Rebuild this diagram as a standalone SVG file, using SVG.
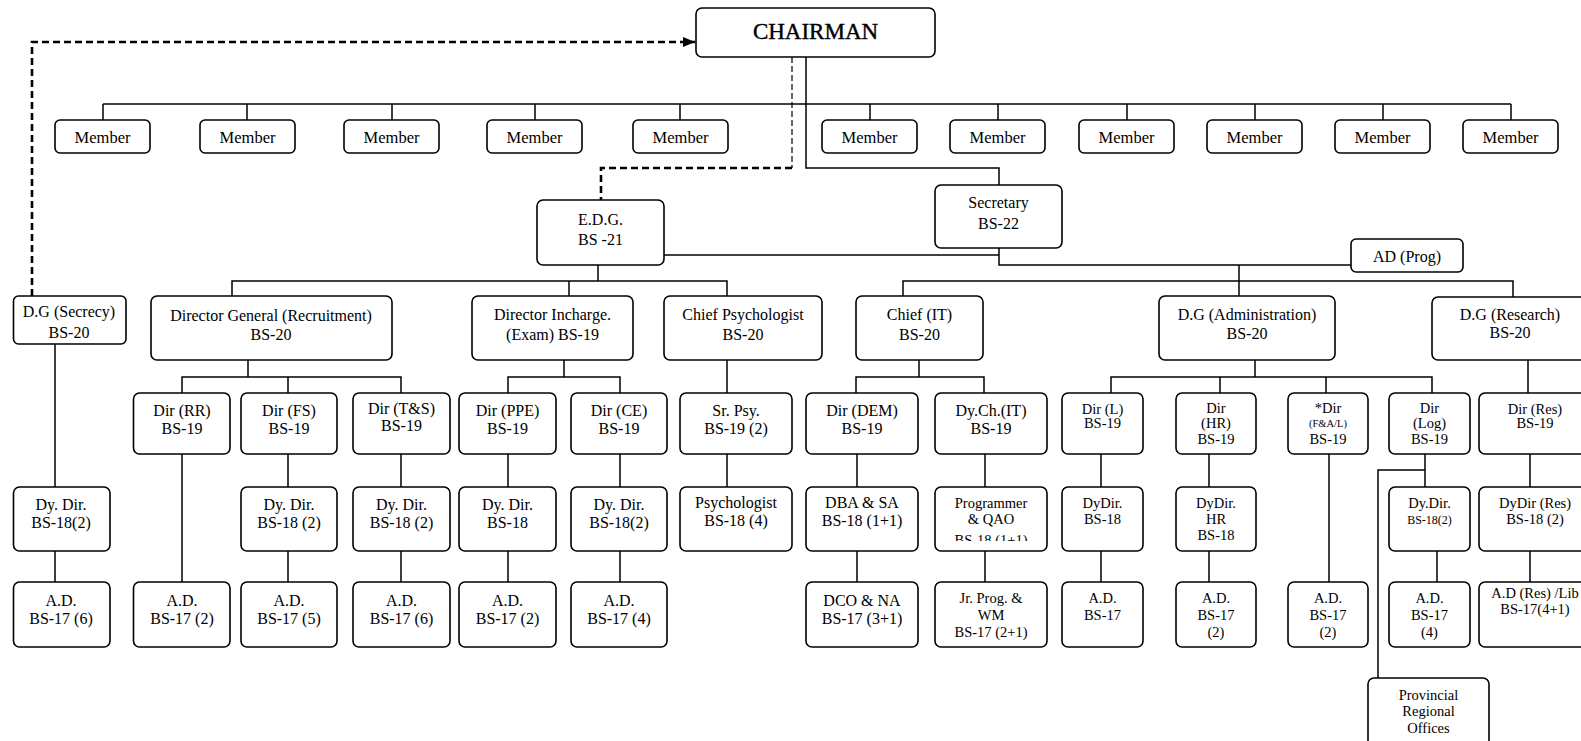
<svg xmlns="http://www.w3.org/2000/svg" width="1581" height="741" viewBox="0 0 1581 741">
<style>
.box{fill:#fff;stroke:#000;stroke-width:1.6}
.t{font-family:"Liberation Serif","Times New Roman",serif;font-size:16px;text-anchor:middle;fill:#000}
.m{font-size:16.5px}
.s{font-size:14.5px}
.xs{font-size:10.5px}
.ln{fill:none;stroke:#000;stroke-width:1.5}
.dk{fill:none;stroke:#000;stroke-width:2.6;stroke-dasharray:7 4}
.dt{fill:none;stroke:#000;stroke-width:1.2;stroke-dasharray:6 3}
</style>
<defs>
<marker id="arr" markerUnits="userSpaceOnUse" markerWidth="14" markerHeight="12" refX="12" refY="6" orient="auto">
<path d="M0,1 L12,6 L0,11 Z" fill="#000"/>
</marker>
<clipPath id="clipProg"><rect x="935" y="487" width="112" height="54"/></clipPath>
</defs>
<rect width="1581" height="741" fill="#fff"/>

<g id="connectors">
<path class="ln" d="M806,57 V168 H999 V185"/>
<path class="ln" d="M103,104 H1511"/>
<path class="ln" d="M103,104 V120 M247,104 V120 M392,104 V120 M535,104 V120 M680,104 V120 M870,104 V120 M998,104 V120 M1127,104 V120 M1255,104 V120 M1383,104 V120 M1511,104 V120"/>
<path class="ln" d="M999,248 V265 H1351"/>
<path class="ln" d="M664,255 H999"/>
<path class="ln" d="M598,265 V281"/>
<path class="ln" d="M232,296 V281 H727 V296 M569,281 V296"/>
<path class="ln" d="M1239,265 V296"/>
<path class="ln" d="M903,296 V281 H1513 V297"/>
<path class="ln" d="M55,344 V487 M55,551 V582"/>
<path class="ln" d="M248,360 V377 M182,393 V377 H401 V393 M288,377 V393"/>
<path class="ln" d="M182,454 V582"/>
<path class="ln" d="M288,454 V487 M288,551 V582"/>
<path class="ln" d="M401,454 V487 M401,551 V582"/>
<path class="ln" d="M564,360 V377 M508,393 V377 H620 V393"/>
<path class="ln" d="M508,454 V487 M508,551 V582"/>
<path class="ln" d="M620,454 V487 M620,551 V582"/>
<path class="ln" d="M727,360 V393 M727,454 V487"/>
<path class="ln" d="M919,360 V377 M856,393 V377 H984 V393"/>
<path class="ln" d="M857,454 V487 M857,551 V582"/>
<path class="ln" d="M985,454 V487 M985,551 V582"/>
<path class="ln" d="M1255,360 V377 M1111,393 V377 H1432 V393 M1220,377 V393 M1326,377 V393"/>
<path class="ln" d="M1101,454 V487 M1101,551 V582"/>
<path class="ln" d="M1209,454 V487 M1209,551 V582"/>
<path class="ln" d="M1329,454 V582"/>
<path class="ln" d="M1425,454 V487 M1425,470 H1378 V678 M1437,551 V582"/>
<path class="ln" d="M1528,360 V393 M1530,454 V487 M1530,551 V582"/>
<path class="dk" d="M32,296 V42 H695" marker-end="url(#arr)"/>
<path class="dt" d="M792,57 V168"/>
<path class="dk" d="M792,168 H601 V200"/>
</g>

<g id="chairman"><rect class="box" x="696" y="8" width="239" height="49" rx="6"/><text class="t" x="815.5" y="39" style="font-size:23px;stroke:#000;stroke-width:0.4">CHAIRMAN</text></g>

<g id="member1"><rect class="box" x="55" y="120" width="95" height="33" rx="5"/><text class="t m" x="102.5" y="143">Member</text></g>
<g id="member2"><rect class="box" x="200" y="120" width="95" height="33" rx="5"/><text class="t m" x="247.5" y="143">Member</text></g>
<g id="member3"><rect class="box" x="344" y="120" width="95" height="33" rx="5"/><text class="t m" x="391.5" y="143">Member</text></g>
<g id="member4"><rect class="box" x="487" y="120" width="95" height="33" rx="5"/><text class="t m" x="534.5" y="143">Member</text></g>
<g id="member5"><rect class="box" x="633" y="120" width="95" height="33" rx="5"/><text class="t m" x="680.5" y="143">Member</text></g>
<g id="member6"><rect class="box" x="822" y="120" width="95" height="33" rx="5"/><text class="t m" x="869.5" y="143">Member</text></g>
<g id="member7"><rect class="box" x="950" y="120" width="95" height="33" rx="5"/><text class="t m" x="997.5" y="143">Member</text></g>
<g id="member8"><rect class="box" x="1079" y="120" width="95" height="33" rx="5"/><text class="t m" x="1126.5" y="143">Member</text></g>
<g id="member9"><rect class="box" x="1207" y="120" width="95" height="33" rx="5"/><text class="t m" x="1254.5" y="143">Member</text></g>
<g id="member10"><rect class="box" x="1335" y="120" width="95" height="33" rx="5"/><text class="t m" x="1382.5" y="143">Member</text></g>
<g id="member11"><rect class="box" x="1463" y="120" width="95" height="33" rx="5"/><text class="t m" x="1510.5" y="143">Member</text></g>

<g id="secretary"><rect class="box" x="935" y="185" width="127" height="63" rx="6"/><text class="t" x="998.5" y="208">Secretary</text><text class="t" x="998.5" y="229">BS-22</text></g>
<g id="edg"><rect class="box" x="537" y="200" width="127" height="65" rx="6"/><text class="t" x="600.5" y="225">E.D.G.</text><text class="t" x="600.5" y="245">BS -21</text></g>
<g id="adprog"><rect class="box" x="1351" y="239" width="112" height="33" rx="5"/><text class="t" x="1407" y="262">AD (Prog)</text></g>

<g id="dg-secrecy"><rect class="box" x="13.5" y="296" width="112.5" height="48" rx="5"/><text class="t" x="69" y="317">D.G (Secrecy)</text><text class="t" x="69" y="338">BS-20</text></g>
<g id="dg-recruitment"><rect class="box" x="151" y="296" width="241" height="64" rx="6"/><text class="t" x="271" y="321">Director General (Recruitment)</text><text class="t" x="271" y="340">BS-20</text></g>
<g id="dir-incharge"><rect class="box" x="472" y="296" width="161" height="64" rx="6"/><text class="t" x="552.5" y="320">Director Incharge.</text><text class="t" x="552.5" y="340">(Exam) BS-19</text></g>
<g id="chief-psych"><rect class="box" x="664" y="296" width="158" height="64" rx="6"/><text class="t" x="743" y="320">Chief Psychologist</text><text class="t" x="743" y="340">BS-20</text></g>
<g id="chief-it"><rect class="box" x="856" y="296" width="127" height="64" rx="6"/><text class="t" x="919.5" y="320">Chief (IT)</text><text class="t" x="919.5" y="340">BS-20</text></g>
<g id="dg-admin"><rect class="box" x="1159" y="296" width="176" height="64" rx="6"/><text class="t" x="1247" y="320">D.G (Administration)</text><text class="t" x="1247" y="339">BS-20</text></g>
<g id="dg-research"><rect class="box" x="1432" y="297" width="160" height="63" rx="6"/><text class="t" x="1510" y="320">D.G (Research)</text><text class="t" x="1510" y="338">BS-20</text></g>

<g id="dir-rr"><rect class="box" x="133.5" y="393" width="96.5" height="61" rx="6"/><text class="t" x="182" y="416">Dir (RR)</text><text class="t" x="182" y="434">BS-19</text></g>
<g id="dir-fs"><rect class="box" x="241" y="393" width="96" height="61" rx="6"/><text class="t" x="289" y="416">Dir (FS)</text><text class="t" x="289" y="434">BS-19</text></g>
<g id="dir-ts"><rect class="box" x="353" y="393" width="97" height="61" rx="6"/><text class="t" x="401.5" y="414">Dir (T&amp;S)</text><text class="t" x="401.5" y="431">BS-19</text></g>
<g id="dir-ppe"><rect class="box" x="459" y="393" width="97" height="61" rx="6"/><text class="t" x="507.5" y="416">Dir (PPE)</text><text class="t" x="507.5" y="434">BS-19</text></g>
<g id="dir-ce"><rect class="box" x="571" y="393" width="96" height="61" rx="6"/><text class="t" x="619" y="416">Dir (CE)</text><text class="t" x="619" y="434">BS-19</text></g>
<g id="sr-psy"><rect class="box" x="680" y="393" width="112" height="61" rx="6"/><text class="t" x="736" y="416">Sr. Psy.</text><text class="t" x="736" y="434">BS-19 (2)</text></g>
<g id="dir-dem"><rect class="box" x="806" y="393" width="112" height="61" rx="6"/><text class="t" x="862" y="416">Dir (DEM)</text><text class="t" x="862" y="434">BS-19</text></g>
<g id="dych-it"><rect class="box" x="935" y="393" width="112" height="61" rx="6"/><text class="t" x="991" y="416">Dy.Ch.(IT)</text><text class="t" x="991" y="434">BS-19</text></g>
<g id="dir-l"><rect class="box" x="1062" y="393" width="81" height="61" rx="6"/><text class="t s" x="1102.5" y="414">Dir (L)</text><text class="t s" x="1102.5" y="428">BS-19</text></g>
<g id="dir-hr"><rect class="box" x="1176" y="393" width="80" height="61" rx="6"/><text class="t s" x="1216" y="413">Dir</text><text class="t s" x="1216" y="428">(HR)</text><text class="t s" x="1216" y="444">BS-19</text></g>
<g id="dir-fal"><rect class="box" x="1288" y="393" width="80" height="61" rx="6"/><text class="t s" x="1328" y="413">*Dir</text><text class="t xs" x="1328" y="427">(F&amp;A/L)</text><text class="t s" x="1328" y="444">BS-19</text></g>
<g id="dir-log"><rect class="box" x="1389" y="393" width="81" height="61" rx="6"/><text class="t s" x="1429.5" y="413">Dir</text><text class="t s" x="1429.5" y="428">(Log)</text><text class="t s" x="1429.5" y="444">BS-19</text></g>
<g id="dir-res"><rect class="box" x="1479" y="393" width="112" height="61" rx="6"/><text class="t s" x="1535" y="414">Dir (Res)</text><text class="t s" x="1535" y="428">BS-19</text></g>

<g id="dydir-secrecy"><rect class="box" x="13.5" y="487" width="96.5" height="64" rx="6"/><text class="t" x="61" y="510">Dy. Dir.</text><text class="t" x="61" y="528">BS-18(2)</text></g>
<g id="dydir-fs"><rect class="box" x="241" y="487" width="96" height="64" rx="6"/><text class="t" x="289" y="510">Dy. Dir.</text><text class="t" x="289" y="528">BS-18 (2)</text></g>
<g id="dydir-ts"><rect class="box" x="353" y="487" width="97" height="64" rx="6"/><text class="t" x="401.5" y="510">Dy. Dir.</text><text class="t" x="401.5" y="528">BS-18 (2)</text></g>
<g id="dydir-ppe"><rect class="box" x="459" y="487" width="97" height="64" rx="6"/><text class="t" x="507.5" y="510">Dy. Dir.</text><text class="t" x="507.5" y="528">BS-18</text></g>
<g id="dydir-ce"><rect class="box" x="571" y="487" width="96" height="64" rx="6"/><text class="t" x="619" y="510">Dy. Dir.</text><text class="t" x="619" y="528">BS-18(2)</text></g>
<g id="psychologist"><rect class="box" x="680" y="487" width="112" height="64" rx="6"/><text class="t" x="736" y="508">Psychologist</text><text class="t" x="736" y="526">BS-18 (4)</text></g>
<g id="dba-sa"><rect class="box" x="806" y="487" width="112" height="64" rx="6"/><text class="t" x="862" y="508">DBA &amp; SA</text><text class="t" x="862" y="526">BS-18 (1+1)</text></g>
<g id="programmer"><rect class="box" x="935" y="487" width="112" height="64" rx="6"/><text class="t s" x="991" y="508">Programmer</text><text class="t s" x="991" y="524">&amp; QAO</text><text class="t s" x="991" y="545" clip-path="url(#clipProg)">BS-18 (1+1)</text></g>
<g id="dydir-l"><rect class="box" x="1062" y="487" width="81" height="64" rx="6"/><text class="t s" x="1102.5" y="508">DyDir.</text><text class="t s" x="1102.5" y="524">BS-18</text></g>
<g id="dydir-hr"><rect class="box" x="1176" y="487" width="80" height="64" rx="6"/><text class="t s" x="1216" y="508">DyDir.</text><text class="t s" x="1216" y="524">HR</text><text class="t s" x="1216" y="540">BS-18</text></g>
<g id="dydir-log"><rect class="box" x="1389" y="487" width="81" height="64" rx="6"/><text class="t s" x="1429.5" y="508">Dy.Dir.</text><text class="t" x="1429.5" y="524" style="font-size:12px">BS-18(2)</text></g>
<g id="dydir-res"><rect class="box" x="1479" y="487" width="112" height="64" rx="6"/><text class="t s" x="1535" y="508">DyDir (Res)</text><text class="t s" x="1535" y="524">BS-18 (2)</text></g>

<g id="ad-secrecy"><rect class="box" x="13.5" y="582" width="96.5" height="65" rx="6"/><text class="t" x="61" y="606">A.D.</text><text class="t" x="61" y="624">BS-17 (6)</text></g>
<g id="ad-rr"><rect class="box" x="133.5" y="582" width="96.5" height="65" rx="6"/><text class="t" x="182" y="606">A.D.</text><text class="t" x="182" y="624">BS-17 (2)</text></g>
<g id="ad-fs"><rect class="box" x="241" y="582" width="96" height="65" rx="6"/><text class="t" x="289" y="606">A.D.</text><text class="t" x="289" y="624">BS-17 (5)</text></g>
<g id="ad-ts"><rect class="box" x="353" y="582" width="97" height="65" rx="6"/><text class="t" x="401.5" y="606">A.D.</text><text class="t" x="401.5" y="624">BS-17 (6)</text></g>
<g id="ad-ppe"><rect class="box" x="459" y="582" width="97" height="65" rx="6"/><text class="t" x="507.5" y="606">A.D.</text><text class="t" x="507.5" y="624">BS-17 (2)</text></g>
<g id="ad-ce"><rect class="box" x="571" y="582" width="96" height="65" rx="6"/><text class="t" x="619" y="606">A.D.</text><text class="t" x="619" y="624">BS-17 (4)</text></g>
<g id="dco-na"><rect class="box" x="806" y="582" width="112" height="65" rx="6"/><text class="t" x="862" y="606">DCO &amp; NA</text><text class="t" x="862" y="624">BS-17 (3+1)</text></g>
<g id="jr-prog"><rect class="box" x="935" y="582" width="112" height="65" rx="6"/><text class="t s" x="991" y="603">Jr. Prog. &amp;</text><text class="t s" x="991" y="620">WM</text><text class="t s" x="991" y="637">BS-17 (2+1)</text></g>
<g id="ad-l"><rect class="box" x="1062" y="582" width="81" height="65" rx="6"/><text class="t s" x="1102.5" y="603">A.D.</text><text class="t s" x="1102.5" y="620">BS-17</text></g>
<g id="ad-hr"><rect class="box" x="1176" y="582" width="80" height="65" rx="6"/><text class="t s" x="1216" y="603">A.D.</text><text class="t s" x="1216" y="620">BS-17</text><text class="t s" x="1216" y="637">(2)</text></g>
<g id="ad-fal"><rect class="box" x="1288" y="582" width="80" height="65" rx="6"/><text class="t s" x="1328" y="603">A.D.</text><text class="t s" x="1328" y="620">BS-17</text><text class="t s" x="1328" y="637">(2)</text></g>
<g id="ad-log"><rect class="box" x="1389" y="582" width="81" height="65" rx="6"/><text class="t s" x="1429.5" y="603">A.D.</text><text class="t s" x="1429.5" y="620">BS-17</text><text class="t s" x="1429.5" y="637">(4)</text></g>
<g id="ad-res-lib"><rect class="box" x="1479" y="582" width="112" height="65" rx="6"/><text class="t s" x="1535" y="598">A.D (Res) /Lib</text><text class="t s" x="1535" y="614">BS-17(4+1)</text></g>

<g id="provincial"><rect class="box" x="1368" y="678" width="121" height="70" rx="6"/><text class="t s" x="1428.5" y="700">Provincial</text><text class="t s" x="1428.5" y="716">Regional</text><text class="t s" x="1428.5" y="733">Offices</text></g>
</svg>
